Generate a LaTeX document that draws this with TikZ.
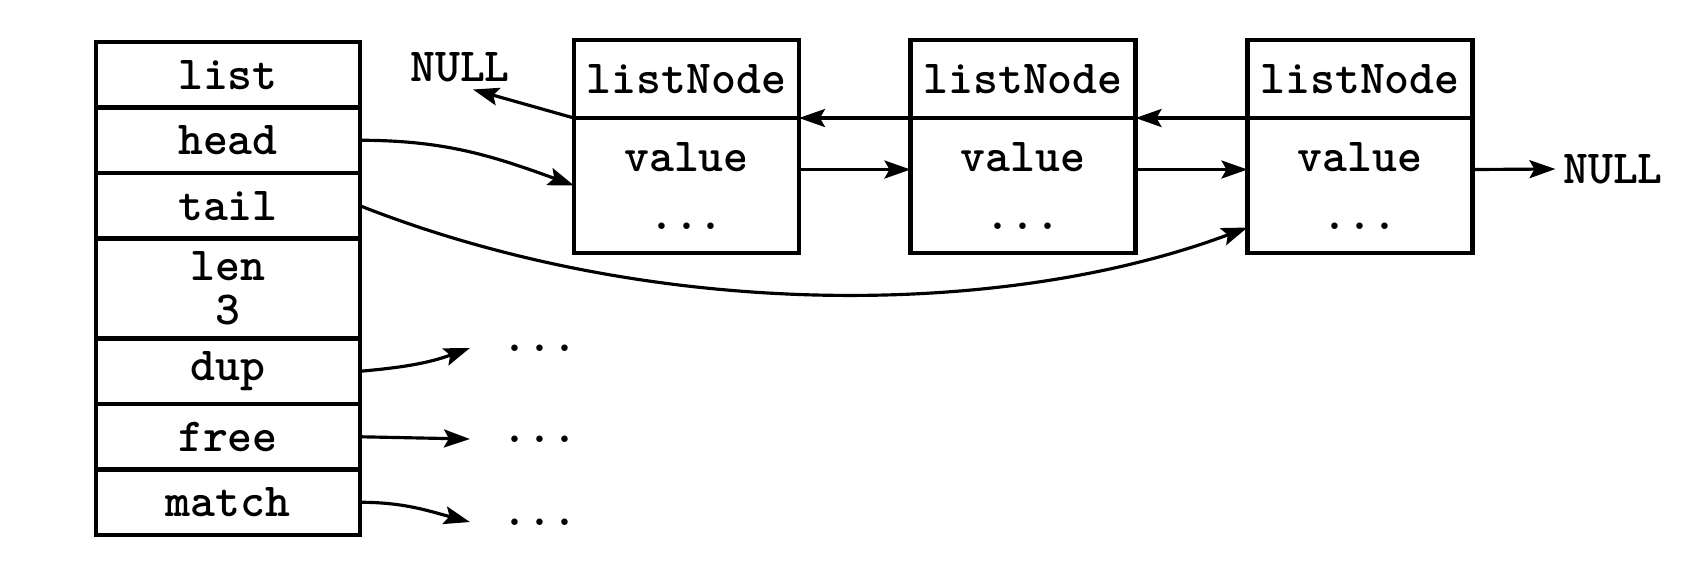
\documentclass[tikz,border=0pt]{standalone}
\usepackage{fontspec}
\usetikzlibrary{arrows.meta}

\begin{document}
\begin{tikzpicture}[auto,
    font=\ttfamily\bfseries\fontsize{13.5}{15.5}\selectfont,
    slot/.style ={rectangle, draw, line width=1.4pt, outer sep=0pt, inner ysep=1pt,
                  minimum width=2.64cm, minimum height=0.655cm, align=center},
    nodetitle/.style ={rectangle, draw, line width=1.4pt, outer sep=0pt,
                  minimum width=2.25cm, minimum height=0.78cm},
    nodebody/.style ={rectangle, draw, line width=1.4pt, outer sep=0pt, inner ysep=1pt,
                  minimum width=2.25cm, minimum height=1.35cm, align=center},
    etc/.style ={inner xsep=3.2mm, inner ysep=1pt},
    nullptr/.style ={inner sep=2pt},
    link/.style ={line width=0.9pt, -{Stealth[length=2.6mm, width=1.8mm, inset=0.5mm]}}]
   \useasboundingbox (0,0) rectangle (16.88,-5.76);
   % the list struct
   \node[slot] (list)  at (2.28,-0.7475) {list};
   \node[slot] (head)  at (2.28,-1.4025) {head};
   \node[slot] (tail)  at (2.28,-2.0575) {tail};
   \node[slot, minimum height=1cm] (len) at (2.28,-2.885) {len\\[-3pt]3};
   \node[slot] (dup)   at (2.28,-3.7125) {dup};
   \node[slot] (free)  at (2.28,-4.3675) {free};
   \node[slot] (match) at (2.28,-5.0225) {match};
   % list nodes
   \node[nodetitle] (t1) at (6.865,-0.79) {listNode};
   \node[nodebody]  (b1) at (6.865,-1.855) {value\\[1pt]...};
   \node[nodetitle] (t2) at (10.23,-0.79) {listNode};
   \node[nodebody]  (b2) at (10.23,-1.855) {value\\[1pt]...};
   \node[nodetitle] (t3) at (13.60,-0.79) {listNode};
   \node[nodebody]  (b3) at (13.60,-1.855) {value\\[1pt]...};
   \node[nullptr] (null1) at (4.60,-0.67) {NULL};
   \node[nullptr] (null2) at (16.13,-1.69) {NULL};
   \node[etc] (d1) at (5.40,-3.48) {...};
   \node[etc] (d2) at (5.40,-4.39) {...};
   \node[etc] (d3) at (5.40,-5.22) {...};
   % prev / next pointers
   \draw[link] (b1.north west) -- (null1.-60);
   \draw[link] (b2.north west) -- (b1.north east);
   \draw[link] (b3.north west) -- (b2.north east);
   \draw[link] ([yshift=1.6mm]b1.east) -- ([yshift=1.6mm]b2.west);
   \draw[link] ([yshift=1.6mm]b2.east) -- ([yshift=1.6mm]b3.west);
   \draw[link] ([yshift=1.6mm]b3.east) -- (null2.west);
   % head, tail and functions
   \draw[link] (head.east) to[out=0, in=160] (b1.west);
   \draw[link] (tail.east) .. controls (6.5,-3.2) and (10,-3.2) .. ([yshift=-4.2mm]b3.west);
   \draw[link] (dup.east) to[out=5, in=200] (d1.west);
   \draw[link] (free.east) -- (d2.west);
   \draw[link] (match.east) to[out=0, in=165] (d3.west);
\end{tikzpicture}
\end{document}
